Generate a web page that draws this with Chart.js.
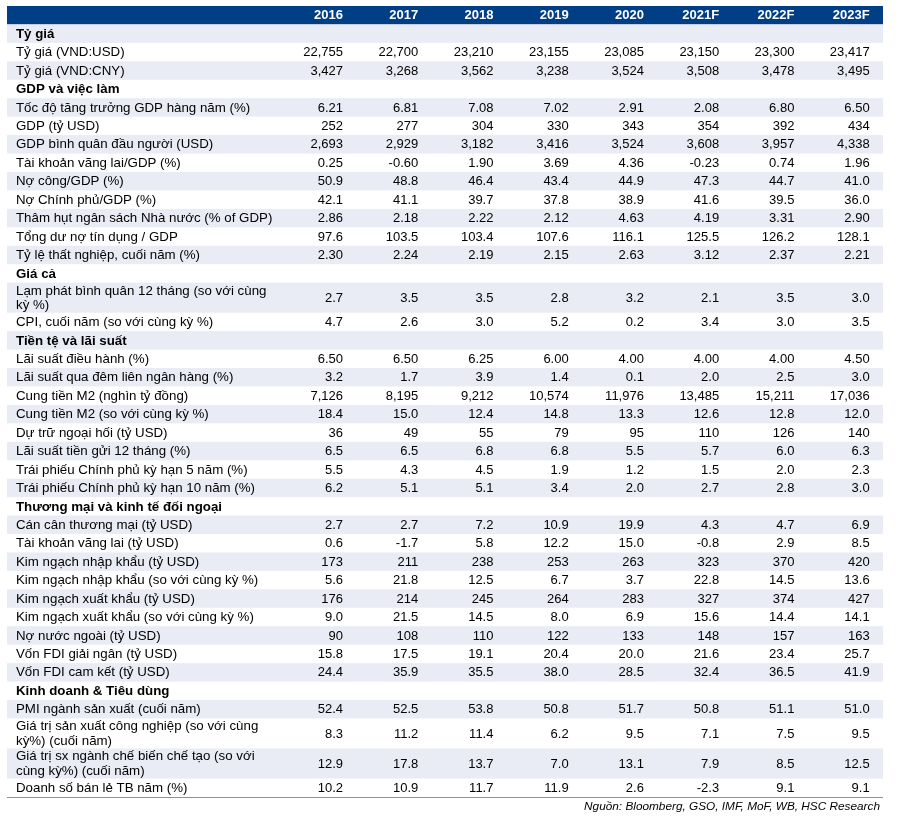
<!DOCTYPE html>
<html>
<head>
<meta charset="utf-8">
<script src="https://cdn.jsdelivr.net/npm/chart.js@4.4.1/dist/chart.umd.min.js"></script>
<style>
  body { margin: 0; background: #fff; }
  #wrap { position: relative; width: 901px; height: 819px; }
</style>
</head>
<body>
<div id="wrap"><canvas id="macroTable"></canvas></div>
<script>
// column headers
var years = ['2016', '2017', '2018', '2019', '2020', '2021F', '2022F', '2023F'];

// section titles and the data row where each one starts
var sectionTitles = ['Tỷ giá', 'GDP và việc làm', 'Giá cả', 'Tiền tệ và lãi suất',
  'Thương mại và kinh tế đối ngoại', 'Kinh doanh & Tiêu dùng'];
var sectionStart = [0, 2, 11, 13, 21, 30];

var rowLabels = [
  'Tỷ giá (VND:USD)',
  'Tỷ giá (VND:CNY)',
  'Tốc độ tăng trưởng GDP hàng năm (%)',
  'GDP (tỷ USD)',
  'GDP bình quân đầu người (USD)',
  'Tài khoản vãng lai/GDP (%)',
  'Nợ công/GDP (%)',
  'Nợ Chính phủ/GDP (%)',
  'Thâm hụt ngân sách Nhà nước (% of GDP)',
  'Tổng dư nợ tín dụng / GDP',
  'Tỷ lệ thất nghiệp, cuối năm (%)',
  'Lạm phát bình quân 12 tháng (so với cùng\nkỳ %)',
  'CPI, cuối năm (so với cùng kỳ %)',
  'Lãi suất điều hành (%)',
  'Lãi suất qua đêm liên ngân hàng (%)',
  'Cung tiền M2 (nghìn tỷ đồng)',
  'Cung tiền M2 (so với cùng kỳ %)',
  'Dự trữ ngoại hối (tỷ USD)',
  'Lãi suất tiền gửi 12 tháng (%)',
  'Trái phiếu Chính phủ kỳ hạn 5 năm (%)',
  'Trái phiếu Chính phủ kỳ hạn 10 năm (%)',
  'Cán cân thương mại (tỷ USD)',
  'Tài khoản vãng lai (tỷ USD)',
  'Kim ngạch nhập khẩu (tỷ USD)',
  'Kim ngạch nhập khẩu (so với cùng kỳ %)',
  'Kim ngạch xuất khẩu (tỷ USD)',
  'Kim ngạch xuất khẩu (so với cùng kỳ %)',
  'Nợ nước ngoài (tỷ USD)',
  'Vốn FDI giải ngân (tỷ USD)',
  'Vốn FDI cam kết (tỷ USD)',
  'PMI ngành sản xuất (cuối năm)',
  'Giá trị sản xuất công nghiệp (so với cùng\nkỳ%) (cuối năm)',
  'Giá trị sx ngành chế biến chế tạo (so với\ncùng kỳ%) (cuối năm)',
  'Doanh số bán lẻ TB năm (%)'
];

// decimals shown for each row
var rowDecimals = [0, 0, 2, 0, 0, 2, 1, 1, 2, 1, 2, 1, 1, 2, 1, 0, 1, 0, 1, 1, 1,
  1, 1, 0, 1, 0, 1, 0, 1, 1, 1, 1, 1, 1];

var rowValues = [
  [22755, 22700, 23210, 23155, 23085, 23150, 23300, 23417],
  [3427, 3268, 3562, 3238, 3524, 3508, 3478, 3495],
  [6.21, 6.81, 7.08, 7.02, 2.91, 2.08, 6.80, 6.50],
  [252, 277, 304, 330, 343, 354, 392, 434],
  [2693, 2929, 3182, 3416, 3524, 3608, 3957, 4338],
  [0.25, -0.60, 1.90, 3.69, 4.36, -0.23, 0.74, 1.96],
  [50.9, 48.8, 46.4, 43.4, 44.9, 47.3, 44.7, 41.0],
  [42.1, 41.1, 39.7, 37.8, 38.9, 41.6, 39.5, 36.0],
  [2.86, 2.18, 2.22, 2.12, 4.63, 4.19, 3.31, 2.90],
  [97.6, 103.5, 103.4, 107.6, 116.1, 125.5, 126.2, 128.1],
  [2.30, 2.24, 2.19, 2.15, 2.63, 3.12, 2.37, 2.21],
  [2.7, 3.5, 3.5, 2.8, 3.2, 2.1, 3.5, 3.0],
  [4.7, 2.6, 3.0, 5.2, 0.2, 3.4, 3.0, 3.5],
  [6.50, 6.50, 6.25, 6.00, 4.00, 4.00, 4.00, 4.50],
  [3.2, 1.7, 3.9, 1.4, 0.1, 2.0, 2.5, 3.0],
  [7126, 8195, 9212, 10574, 11976, 13485, 15211, 17036],
  [18.4, 15.0, 12.4, 14.8, 13.3, 12.6, 12.8, 12.0],
  [36, 49, 55, 79, 95, 110, 126, 140],
  [6.5, 6.5, 6.8, 6.8, 5.5, 5.7, 6.0, 6.3],
  [5.5, 4.3, 4.5, 1.9, 1.2, 1.5, 2.0, 2.3],
  [6.2, 5.1, 5.1, 3.4, 2.0, 2.7, 2.8, 3.0],
  [2.7, 2.7, 7.2, 10.9, 19.9, 4.3, 4.7, 6.9],
  [0.6, -1.7, 5.8, 12.2, 15.0, -0.8, 2.9, 8.5],
  [173, 211, 238, 253, 263, 323, 370, 420],
  [5.6, 21.8, 12.5, 6.7, 3.7, 22.8, 14.5, 13.6],
  [176, 214, 245, 264, 283, 327, 374, 427],
  [9.0, 21.5, 14.5, 8.0, 6.9, 15.6, 14.4, 14.1],
  [90, 108, 110, 122, 133, 148, 157, 163],
  [15.8, 17.5, 19.1, 20.4, 20.0, 21.6, 23.4, 25.7],
  [24.4, 35.9, 35.5, 38.0, 28.5, 32.4, 36.5, 41.9],
  [52.4, 52.5, 53.8, 50.8, 51.7, 50.8, 51.1, 51.0],
  [8.3, 11.2, 11.4, 6.2, 9.5, 7.1, 7.5, 9.5],
  [12.9, 17.8, 13.7, 7.0, 13.1, 7.9, 8.5, 12.5],
  [10.2, 10.9, 11.7, 11.9, 2.6, -2.3, 9.1, 9.1]
];

var sourceText = 'Nguồn: Bloomberg, GSO, IMF, MoF, WB, HSC Research';

var FONT = '"Liberation Sans", Arial, sans-serif';
var NAVY = '#003e86';
var SHADE = '#e9ecf4';

// build the row list (section rows + data rows) on a y axis measured in rows
var rows = [];
var yPos = 1; // header occupies 0..1
sectionTitles.forEach(function (title, s) {
  rows.push({ label: title, section: true, top: yPos, bottom: yPos + 1 });
  yPos += 1;
  var end = s + 1 < sectionStart.length ? sectionStart[s + 1] : rowLabels.length;
  for (var r = sectionStart[s]; r < end; r++) {
    var h = rowLabels[r].indexOf('\n') >= 0 ? 1.63 : 1;
    rows.push({ label: rowLabels[r], section: false, data: r, top: yPos, bottom: yPos + h });
    yPos += h;
  }
});
var yMax = yPos;

function fmt(v, d) {
  return v.toLocaleString('en-US', { minimumFractionDigits: d, maximumFractionDigits: d });
}

// one scatter series per year; the points sit at the right edge of each cell
var datasets = years.map(function (yr, c) {
  var pts = [];
  rows.forEach(function (row) {
    if (row.section) return;
    pts.push({ x: c, y: (row.top + row.bottom) / 2, text: fmt(rowValues[row.data][c], rowDecimals[row.data]) });
  });
  return { label: yr, data: pts, pointRadius: 0, pointHoverRadius: 0 };
});

// table geometry: chart area = table box, one x unit = one year column
var colStep = 75.23;
var firstColRight = 336; // px from table left to right edge of 2016 values
var tableWidth = 876;
var xMin = -firstColRight / colStep;
var xMax = xMin + tableWidth / colStep;

var tablePlugin = {
  id: 'tablePlugin',
  beforeDatasetsDraw: function (chart) {
    var ctx = chart.ctx, xs = chart.scales.x, ys = chart.scales.y;
    var left = xs.getPixelForValue(xMin), right = xs.getPixelForValue(xMax);
    ctx.save();
    // header band
    var hTop = ys.getPixelForValue(0), hBot = ys.getPixelForValue(1);
    ctx.fillStyle = NAVY;
    ctx.fillRect(left, hTop, right - left, hBot - hTop);
    ctx.fillStyle = '#fff';
    ctx.font = 'bold 13px ' + FONT;
    ctx.textAlign = 'right';
    ctx.textBaseline = 'middle';
    years.forEach(function (yr, c) {
      ctx.fillText(yr, xs.getPixelForValue(c), (hTop + hBot) / 2 + 0.5);
    });
    // striped rows and labels
    rows.forEach(function (row, i) {
      var t = ys.getPixelForValue(row.top), b = ys.getPixelForValue(row.bottom);
      if (i % 2 === 0) {
        ctx.fillStyle = SHADE;
        ctx.fillRect(left, t, right - left, b - t);
      }
      ctx.fillStyle = '#000';
      ctx.textAlign = 'left';
      ctx.font = (row.section ? 'bold ' : '') + '13.3px ' + FONT;
      var lines = row.label.split('\n');
      var mid = (t + b) / 2 + 0.5;
      lines.forEach(function (ln, k) {
        ctx.fillText(ln, left + 9, mid + (k - (lines.length - 1) / 2) * 14.6);
      });
    });
    // bottom rule
    var yb = ys.getPixelForValue(yMax);
    ctx.strokeStyle = '#8093b0';
    ctx.lineWidth = 1;
    ctx.beginPath();
    ctx.moveTo(left, Math.round(yb) + 0.5);
    ctx.lineTo(right, Math.round(yb) + 0.5);
    ctx.stroke();
    ctx.restore();
  },
  afterDatasetsDraw: function (chart) {
    var ctx = chart.ctx;
    ctx.save();
    ctx.fillStyle = '#000';
    ctx.font = '13px ' + FONT;
    ctx.textAlign = 'right';
    ctx.textBaseline = 'middle';
    chart.data.datasets.forEach(function (ds, di) {
      chart.getDatasetMeta(di).data.forEach(function (pt, k) {
        ctx.fillText(ds.data[k].text, pt.x, pt.y + 0.5);
      });
    });
    // source note under the table
    var xs = chart.scales.x, ys = chart.scales.y;
    ctx.font = 'italic 11.8px ' + FONT;
    ctx.fillText(sourceText, xs.getPixelForValue(xMax) - 3, ys.getPixelForValue(yMax) + 10);
    ctx.restore();
  }
};

new Chart(document.getElementById('macroTable'), {
  type: 'scatter',
  data: { datasets: datasets },
  options: {
    responsive: true,
    maintainAspectRatio: false,
    animation: false,
    events: [],
    layout: { padding: { left: 7, right: 18, top: 6, bottom: 22 } },
    plugins: { legend: { display: false }, tooltip: { enabled: false } },
    scales: {
      x: { type: 'linear', display: false, min: xMin, max: xMax },
      y: { type: 'linear', display: false, reverse: true, min: 0, max: yMax }
    }
  },
  plugins: [tablePlugin]
});
</script>
</body>
</html>
